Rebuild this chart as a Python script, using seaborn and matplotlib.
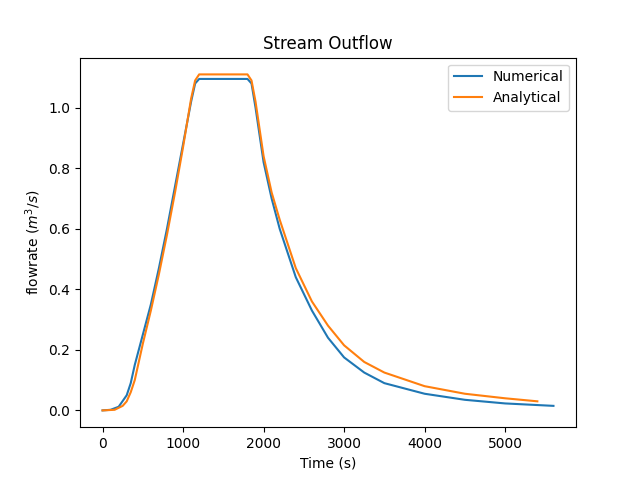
import matplotlib
matplotlib.use("Agg")
import matplotlib.pyplot as plt
import seaborn as sns

# Values
t_num = [0, 100, 200, 300, 350, 400, 500, 600, 700, 800, 900, 1000, 1100, 1150, 1200, 1500, 1800, 1850, 1900,
         2000, 2100, 2200, 2400, 2600, 2800, 3000, 3250, 3500, 4000, 4500, 5000, 5600]
q_num = [0, 0.002, 0.012, 0.05, 0.09, 0.15, 0.25, 0.35, 0.47, 0.6, 0.74, 0.88, 1.02, 1.08, 1.095, 1.095, 1.095, 1.08, 1.0,
         0.82, 0.7, 0.6, 0.44, 0.33, 0.24, 0.175, 0.125, 0.09, 0.055, 0.035, 0.023, 0.015]
t_ana = [0, 150, 250, 300, 350, 400, 500, 600, 700, 800, 900, 1000, 1100, 1150, 1200, 1500, 1800, 1850, 1900,
         2000, 2100, 2200, 2400, 2600, 2800, 3000, 3250, 3500, 4000, 4500, 5000, 5400]
q_ana = [0, 0.002, 0.015, 0.03, 0.06, 0.1, 0.22, 0.33, 0.45, 0.58, 0.72, 0.87, 1.03, 1.09, 1.11, 1.11, 1.11, 1.09, 1.02,
         0.84, 0.72, 0.63, 0.47, 0.36, 0.28, 0.215, 0.16, 0.125, 0.08, 0.055, 0.04, 0.03]

fig, ax = plt.subplots(figsize=(6.4, 4.8), dpi=100)
sns.lineplot(x=t_num, y=q_num, ax=ax, label="Numerical", color="#1f77b4")
sns.lineplot(x=t_ana, y=q_ana, ax=ax, label="Analytical", color="#ff7f0e")

ax.set_title("Stream Outflow")
ax.set_xlabel("Time (s)")
ax.set_ylabel("flowrate ($m^3/s$)")
ax.legend(loc="upper right")

plt.savefig("out.png", dpi=100)
